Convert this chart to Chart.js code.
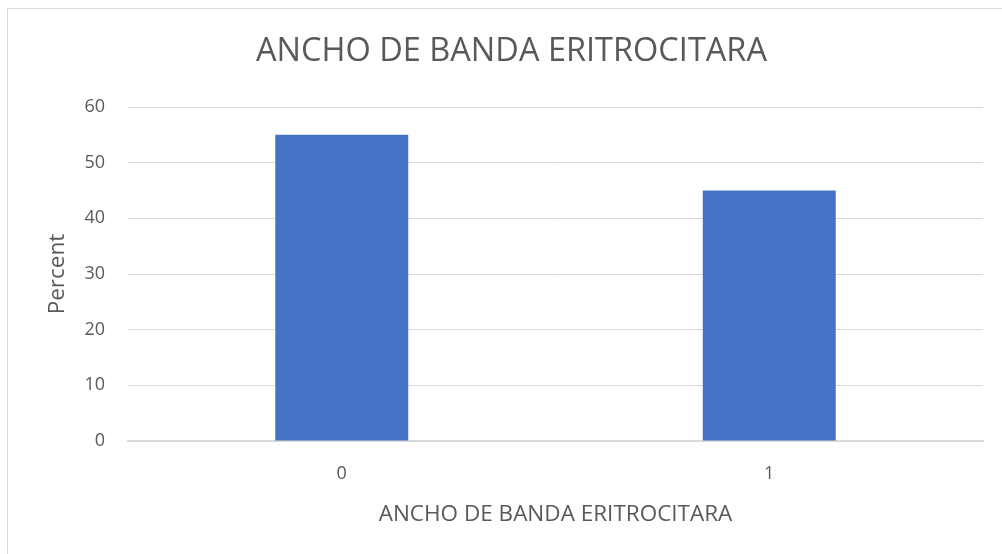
<!DOCTYPE html>
<html>
<head>
<meta charset="utf-8">
<script src="https://cdn.jsdelivr.net/npm/chart.js@4.4.1/dist/chart.umd.min.js"></script>
<style>
  html, body { margin: 0; padding: 0; background: #fff; }
  #wrap { position: relative; width: 1002px; height: 554px; overflow: hidden; }
  #frame { position: absolute; left: 7px; top: 8px; width: 1100px; height: 700px; border: 1.5px solid #d9d9d9; box-sizing: border-box; }
  canvas { position: absolute; left: 0; top: 0; }
</style>
</head>
<body>
<div id="wrap">
  <div id="frame"></div>
  <canvas id="c" width="1002" height="554"></canvas>
</div>
<script>
const categories = ["0", "1"];
const percentValues = [55, 45];
const yTicks = [0, 10, 20, 30, 40, 50, 60];
const chartTitle = "ANCHO DE BANDA ERITROCITARA";
const xTitle = "ANCHO DE BANDA ERITROCITARA";
const yTitle = "Percent";

const FONT = "'Open Sans', 'Liberation Sans', sans-serif";
const TXT = "#595959";

new Chart(document.getElementById("c"), {
  type: "bar",
  data: {
    labels: categories,
    datasets: [{
      data: percentValues,
      backgroundColor: "#4472c4",
      borderWidth: 0,
      barPercentage: 1,
      categoryPercentage: 0.311
    }]
  },
  options: {
    responsive: false,
    animation: false,
    layout: { padding: { left: 40, right: 19, top: 0, bottom: 0 } },
    plugins: {
      legend: { display: false },
      tooltip: { enabled: false },
      title: {
        display: true,
        text: chartTitle,
        color: TXT,
        font: { family: FONT, size: 32.5, weight: "normal" },
        padding: { top: 32.5, bottom: 35.5 }
      }
    },
    scales: {
      x: {
        grid: { display: false, drawTicks: false },
        border: { display: true, color: "#d9d9d9", width: 1.5 },
        ticks: { color: TXT, font: { family: FONT, size: 18 }, padding: 22 },
        title: { display: true, text: xTitle, color: TXT, font: { family: FONT, size: 22.5 }, padding: { top: 0, bottom: 26 } },
        afterFit: s => { s.height = 113; }
      },
      y: {
        min: 0, max: 60,
        afterBuildTicks: s => { s.ticks = yTicks.map(v => ({ value: v })); },
        grid: { color: "#d9d9d9", lineWidth: 1, drawTicks: false },
        border: { display: false },
        ticks: { color: TXT, font: { family: FONT, size: 18 }, padding: 23 },
        title: { display: true, text: yTitle, color: TXT, font: { family: FONT, size: 22.5 }, padding: { top: 4, bottom: 0 } },
        afterFit: s => { s.width = 88; }
      }
    }
  }
});
</script>
</body>
</html>
